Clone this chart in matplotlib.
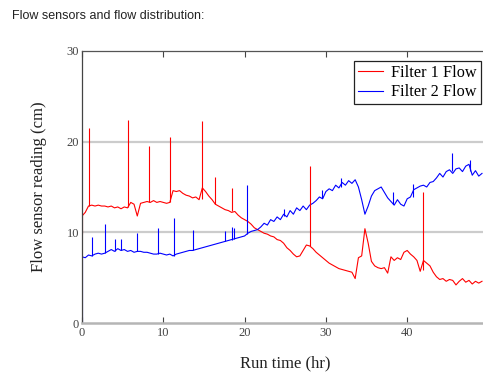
import numpy as np
import matplotlib
matplotlib.use("Agg")
import matplotlib.pyplot as plt

# ---- data ----
step_hr = 0.4
filter1_flow = [
    11.8, 12.2, 12.9, 13.0, 12.9, 13.0, 12.9, 12.9, 12.8, 12.9,
    12.7, 12.8, 12.6, 12.8, 12.7, 13.3, 13.1, 11.8, 13.2, 13.3,
    13.4, 13.3, 13.5, 13.3, 13.4, 13.3, 13.2, 13.3, 14.6, 14.5,
    14.6, 14.3, 14.1, 14.0, 13.8, 13.9, 13.6, 14.9, 14.5, 14.0,
    13.6, 13.1, 12.9, 12.7, 12.5, 12.4, 12.2, 12.3, 11.9, 11.6,
    11.4, 11.2, 10.9, 10.5, 10.3, 10.1, 9.9, 9.8, 9.6, 9.5,
    9.2, 9.1, 8.8, 8.3, 8.0, 7.6, 7.3, 7.4, 8.0, 8.6,
    8.5, 8.2, 7.8, 7.5, 7.2, 6.9, 6.6, 6.4, 6.2, 6.0,
    5.9, 5.8, 5.7, 5.6, 4.9, 7.2, 7.4, 10.4, 8.8, 6.8,
    6.3, 6.1, 6.0, 6.1, 5.5, 7.3, 6.9, 7.2, 7.0, 7.8,
    8.0, 7.6, 7.3, 6.9, 5.7, 6.9, 6.6, 6.3, 5.6, 5.1,
    4.8, 4.9, 4.6, 4.8, 4.7, 4.2, 4.6, 4.9, 4.5, 4.7,
    4.3, 4.6, 4.4, 4.6,
]
filter2_flow = [
    7.3, 7.2, 7.5, 7.4, 7.6, 7.7, 7.6, 7.7, 7.9, 8.1,
    7.9, 8.2, 8.0, 8.1, 7.9, 8.0, 7.8, 7.9, 7.9, 7.8,
    7.8, 7.7, 7.6, 7.6, 7.7, 7.6, 7.5, 7.6, 7.4, 7.6,
    7.7, 7.8, 7.9, 8.0, 8.0, 8.1, 8.2, 8.3, 8.4, 8.5,
    8.6, 8.7, 8.8, 8.9, 9.0, 9.1, 9.2, 9.3, 9.4, 9.5,
    9.6, 9.9, 10.1, 10.2, 10.3, 10.6, 11.0, 10.8, 11.4, 11.2,
    11.7, 11.4, 12.0, 11.7, 12.4, 12.0, 12.7, 12.4, 12.9, 12.5,
    13.0, 13.2, 13.5, 13.9, 13.7, 14.5, 14.8, 14.6, 15.2, 14.9,
    15.5, 15.2, 15.7, 15.4, 15.8, 15.0, 13.6, 12.0, 12.9, 14.0,
    14.6, 14.8, 15.0, 14.4, 13.8, 13.4, 13.0, 13.6, 13.1, 12.9,
    13.7, 13.9, 14.7, 14.9, 15.1, 15.2, 15.0, 15.5, 15.6, 16.0,
    16.5, 16.1, 16.7, 16.9, 16.5, 17.0, 17.1, 16.7, 17.3, 17.5,
    16.3, 16.8, 16.2, 16.5,
]
# spikes: time, low, high
f1_spike_t = [0.0, 0.8, 5.7, 8.2, 10.8, 14.7, 16.4, 18.5, 28.0, 42.0]
f1_spike_lo = [9.8, 12.9, 12.8, 13.3, 13.3, 13.7, 13.1, 12.3, 8.5, 5.8]
f1_spike_hi = [12.0, 21.5, 22.4, 19.5, 20.5, 22.3, 16.1, 14.9, 17.3, 14.5]

f2_spike_t = [0.0, 1.2, 2.8, 4.0, 4.8, 6.8, 9.4, 11.3, 13.6, 17.6, 18.4,
              18.7, 20.3, 24.9, 29.5, 31.9, 38.2, 40.7, 45.5, 47.7]
f2_spike_lo = [0.0, 7.4, 7.7, 7.9, 8.0, 7.9, 7.6, 7.4, 8.0, 9.0, 9.2,
               9.3, 9.8, 11.8, 13.8, 15.0, 13.1, 13.9, 16.8, 16.8]
f2_spike_hi = [7.3, 9.5, 10.9, 9.3, 9.3, 9.9, 10.5, 11.6, 10.3, 10.1, 10.6,
               10.5, 15.2, 12.6, 14.7, 16.0, 14.4, 15.3, 18.7, 18.0]

x_ticks = [0, 10, 20, 30, 40]
y_ticks = [0, 10, 20, 30]

# ---- figure ----
W, H = 483, 375
fig = plt.figure(figsize=(W / 100, H / 100), dpi=100)
ax = fig.add_axes([82 / W, 1 - 323 / H, 406.5 / W, 272 / H])

serif = ["Liberation Serif", "DejaVu Serif"]
red = "#ff0000"
blue = "#0000ff"

t1 = np.arange(len(filter1_flow)) * step_hr
t2 = np.arange(len(filter2_flow)) * step_hr

for yv in [10, 20]:
    ax.axhline(yv, color="#cccccc", lw=1.6, zorder=0)

ax.plot(t1, filter1_flow, color=red, lw=0.8, label="Filter 1 Flow")
ax.plot(t2, filter2_flow, color=blue, lw=0.8, label="Filter 2 Flow")
ax.vlines(f1_spike_t, f1_spike_lo, f1_spike_hi, color=red, lw=0.8)
ax.vlines(f2_spike_t, f2_spike_lo, f2_spike_hi, color=blue, lw=0.8)

ax.set_xlim(0, 50)
ax.set_ylim(0, 30)
ax.set_xticks(x_ticks)
ax.set_yticks(y_ticks)
ax.tick_params(axis="x", direction="in", length=4, width=0.8, color="#444444",
               top=True, labelsize=9, labelcolor="#444444", pad=3)
ax.tick_params(axis="y", length=0, labelsize=9, labelcolor="#444444", pad=2)
for lab in ax.get_xticklabels() + ax.get_yticklabels():
    lab.set_family(serif)

ax.spines["bottom"].set_color("#b5b5b5")
ax.spines["bottom"].set_linewidth(1.8)
ax.spines["top"].set_color("#555555")
ax.spines["top"].set_linewidth(0.9)
ax.spines["left"].set_color("#444444")
ax.spines["left"].set_linewidth(0.9)
ax.spines["right"].set_visible(False)

ax.set_xlabel("Run time (hr)", family=serif, fontsize=12, color="#222222", labelpad=12)
ax.set_ylabel("Flow sensor reading (cm)", family=serif, fontsize=12, color="#222222", labelpad=14)

leg = ax.legend(loc="upper right", bbox_to_anchor=(481 / W, 1 - 61 / H),
                bbox_transform=fig.transFigure, prop={"family": serif, "size": 11.7},
                fancybox=False, edgecolor="#222222", framealpha=1,
                borderaxespad=0, handlelength=1.55, handletextpad=0.5,
                borderpad=0.25, labelspacing=0.2)
leg.get_frame().set_linewidth(0.9)

fig.text(12 / W, 1 - 16 / H, "Flow sensors and flow distribution:",
         family=["Liberation Sans", "DejaVu Sans"], fontsize=9, color="#222222",
         va="center", ha="left")

fig.savefig("out.png", dpi=100)
